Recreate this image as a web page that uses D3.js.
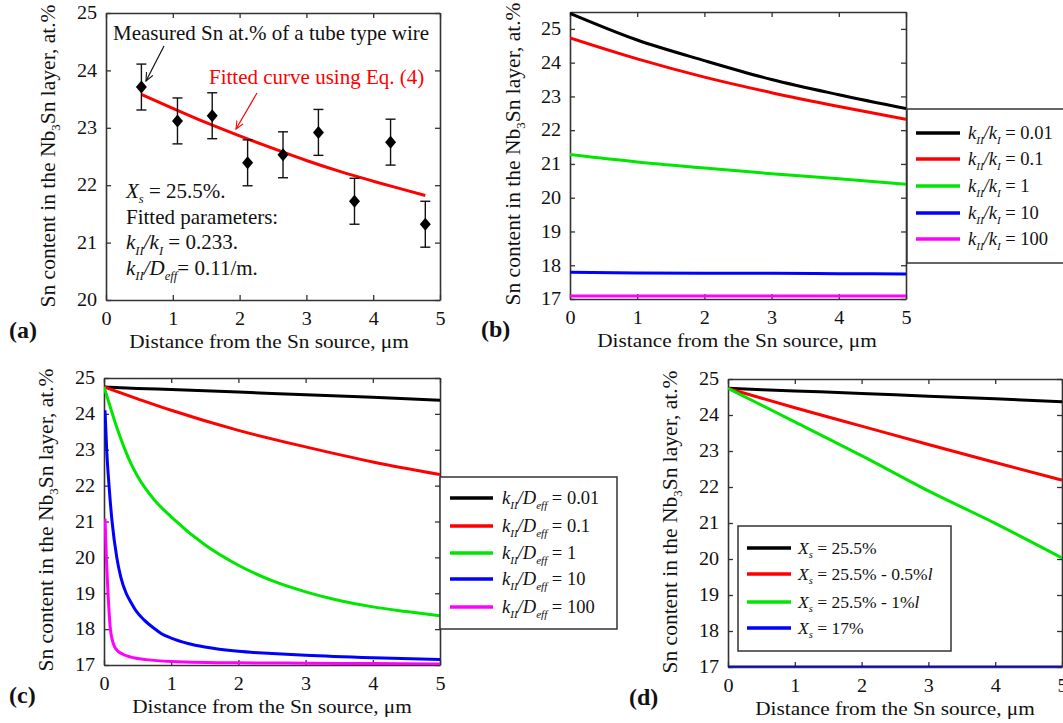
<!DOCTYPE html>
<html>
<head>
<meta charset="utf-8">
<script src="https://cdn.jsdelivr.net/npm/d3@7"></script>
<style>
  body { margin: 0; background: #fff; }
  text { font-family: "Liberation Serif", "Times New Roman", serif; fill: #111; }
</style>
</head>
<body>
<div id="chart"></div>
<script>
// ---- data ----
const xTicks = [0, 1, 2, 3, 4, 5];

// (a) measured points and fitted curve
const measX   = [0.53, 1.07, 1.59, 2.12, 2.65, 3.18, 3.72, 4.26, 4.78];
const measY   = [23.71, 23.12, 23.21, 22.39, 22.53, 22.92, 21.72, 22.75, 21.32];
const measErr = [0.4, 0.4, 0.4, 0.4, 0.4, 0.4, 0.4, 0.4, 0.4];
const fitX = [0.53, 1, 1.5, 2, 2.5, 3, 3.5, 4, 4.5, 4.78];
const fitY = [23.58, 23.34, 23.09, 22.86, 22.64, 22.43, 22.24, 22.07, 21.91, 21.82];

// (b) effect of kII/kI
const bX = [0, 1, 2, 3, 4, 5];
const bBlack   = [25.46, 24.67, 24.06, 23.50, 23.05, 22.64];
const bRed     = [24.73, 24.11, 23.57, 23.11, 22.70, 22.32];
const bGreen   = [21.28, 21.06, 20.88, 20.71, 20.56, 20.40];
const bBlue    = [17.79, 17.77, 17.76, 17.76, 17.75, 17.74];
const bMagenta = [17.09, 17.09, 17.09, 17.09, 17.09, 17.09];
const bRatios  = ["0.01", "0.1", "1", "10", "100"];

// (c) effect of kII/Deff
const cX       = [0, 0.5, 1, 2, 3, 4, 5];
const cBlack   = [24.75, 24.71, 24.68, 24.61, 24.53, 24.46, 24.38];
const cRed     = [24.75, 24.42, 24.10, 23.54, 23.08, 22.66, 22.31];
const cGreenX  = [0, 0.05, 0.1, 0.2, 0.3, 0.4, 0.5, 0.75, 1, 1.5, 2, 2.5, 3, 3.5, 4, 4.5, 5];
const cGreen   = [24.75, 24.45, 24.15, 23.57, 23.06, 22.62, 22.26, 21.60, 21.13, 20.35, 19.78, 19.35, 19.04, 18.80, 18.62, 18.49, 18.37];
const cBlueX   = [0.015, 0.04, 0.075, 0.12, 0.19, 0.25, 0.33, 0.4, 0.48, 0.6, 0.76, 0.85, 1, 1.25, 1.5, 2, 2.5, 3, 4, 5];
const cBlue    = [24.10, 23.00, 22.00, 21.00, 20.00, 19.45, 19.00, 18.75, 18.50, 18.25, 18.00, 17.88, 17.75, 17.60, 17.50, 17.38, 17.32, 17.27, 17.20, 17.15];
const cMagX    = [0.015, 0.035, 0.06, 0.095, 0.12, 0.16, 0.2, 0.28, 0.4, 0.63, 1, 2, 3, 4, 5];
const cMagenta = [21.08, 20.00, 19.00, 18.00, 17.72, 17.50, 17.40, 17.30, 17.22, 17.15, 17.10, 17.06, 17.05, 17.04, 17.03];
const cRatios  = ["0.01", "0.1", "1", "10", "100"];

// (d) effect of Xs
const dX = [0, 1, 2, 3, 4, 5];
const dBlack = [24.74, 24.67, 24.60, 24.52, 24.45, 24.37];
const dRed   = [24.74, 24.20, 23.69, 23.18, 22.68, 22.19];
const dGreen = [24.74, 23.81, 22.87, 21.89, 20.99, 20.03];
const dBlue  = [17.00, 17.00, 17.00, 17.00, 17.00, 17.00];
const dLabels = ["25.5%", "25.5% - 0.5%", "25.5% - 1%", "17%"];

const colors = ["#000000", "#ff0000", "#00e600", "#0000ff", "#ff00ff"];

const width = 1063, height = 723;
const sx = 1.12; // the source figure is a bit wider than tall

let svg = d3.select("#chart").append("svg")
  .attr("width", width)
  .attr("height", height);

svg.append("rect").attr("width", width).attr("height", height).attr("fill", "#fff");

svg.append("defs").selectAll("marker")
  .data([["arrBlack", "#111"], ["arrRed", "#ff0000"]])
  .enter().append("marker")
  .attr("id", d => d[0])
  .attr("viewBox", "0 -5 10 10")
  .attr("refX", 9)
  .attr("refY", 0)
  .attr("markerWidth", 9)
  .attr("markerHeight", 9)
  .attr("markerUnits", "userSpaceOnUse")
  .attr("orient", "auto")
  .append("path")
  .attr("d", "M0,-4L9,0L0,4")
  .attr("fill", "none")
  .attr("stroke", d => d[1])
  .attr("stroke-width", 1.2);

// text with italic / subscript pieces
function rich(sel, segs, size) {
  let shift = 0;
  segs.forEach(s => {
    const t = sel.append("tspan").text(s.t);
    if (s.i) t.attr("font-style", "italic");
    const target = s.sub ? size * 0.25 : 0;
    if (s.sub) t.attr("font-size", size * 0.6);
    if (target - shift !== 0) t.attr("dy", target - shift);
    shift = target;
  });
  return sel;
}

const yLabelSegs = [{t: "Sn content in the Nb"}, {t: "3", sub: 1}, {t: "Sn layer, at.%"}];

function panel(cfg) {
  const x = d3.scaleLinear().domain([0, 5]).range([cfg.left, cfg.right]);
  const y = d3.scaleLinear().domain(cfg.yDom).range([cfg.bottom, cfg.top]);
  const g = svg.append("g");

  const styleAxis = a => {
    a.selectAll("path.domain").attr("stroke", "#333").attr("stroke-width", 1.6);
    a.selectAll(".tick line").attr("stroke", "#333").attr("stroke-width", 1.3);
    a.selectAll(".tick text").attr("font-size", 18).attr("fill", "#111")
      .attr("transform", `scale(${sx},1)`);
  };

  g.append("g").attr("transform", `translate(0,${cfg.bottom})`)
    .call(d3.axisBottom(x).tickValues(xTicks).tickSize(-5).tickSizeOuter(0).tickPadding(12).tickFormat(d3.format("d")))
    .call(styleAxis);
  g.append("g").attr("transform", `translate(0,${cfg.top})`)
    .call(d3.axisTop(x).tickValues(xTicks).tickSize(-5).tickSizeOuter(0).tickFormat(""))
    .call(styleAxis);
  g.append("g").attr("transform", `translate(${cfg.left},0)`)
    .call(d3.axisLeft(y).tickValues(cfg.yTicks).tickSize(-5).tickSizeOuter(0).tickPadding(8).tickFormat(d3.format("d")))
    .call(styleAxis);
  g.append("g").attr("transform", `translate(${cfg.right},0)`)
    .call(d3.axisRight(y).tickValues(cfg.yTicks).tickSize(-5).tickSizeOuter(0).tickFormat(""))
    .call(styleAxis);

  // axis titles
  g.append("text")
    .attr("transform", `translate(${cfg.xLabX},${cfg.bottom + 48}) scale(${sx},1)`)
    .attr("text-anchor", "middle")
    .attr("font-size", 19)
    .text("Distance from the Sn source, \u03bcm");
  rich(g.append("text")
    .attr("transform", `translate(${cfg.yLabX},${cfg.yLabY}) rotate(-90)`)
    .attr("text-anchor", "middle")
    .attr("font-size", 21.5), yLabelSegs, 21.5);

  g.append("text")
    .attr("x", cfg.tagX)
    .attr("y", cfg.bottom + 38)
    .attr("font-size", 24)
    .attr("font-weight", "bold")
    .text(cfg.tag);

  const line = d3.line().x(d => x(d[0])).y(d => y(d[1])).curve(d3.curveMonotoneX);
  const clip = "clip" + cfg.tag.replace(/\W/g, "");
  g.append("clipPath").attr("id", clip).append("rect")
    .attr("x", cfg.left).attr("y", cfg.top - 2)
    .attr("width", cfg.right - cfg.left).attr("height", cfg.bottom - cfg.top + 2);
  g.append("g").attr("clip-path", `url(#${clip})`)
    .selectAll("path")
    .data(cfg.series)
    .enter().append("path")
    .attr("d", s => line(s.xs.map((v, i) => [v, s.ys[i]])))
    .attr("fill", "none")
    .attr("stroke", s => s.color)
    .attr("stroke-width", 3);

  return {x, y, g};
}

const yTicks17 = [17, 18, 19, 20, 21, 22, 23, 24, 25];

// ---- (a) ----
const pa = panel({left: 106, right: 440, top: 13, bottom: 300, yDom: [20, 25],
  yTicks: [20, 21, 22, 23, 24, 25], yLabX: 55, yLabY: 156, tag: "(a)", tagX: 9, xLabX: 269,
  series: [{xs: fitX, ys: fitY, color: "#ff0000"}]});

const meas = measX.map((v, i) => ({x: v, y: measY[i], e: measErr[i]}));
const eb = pa.g.append("g").selectAll("g").data(meas).enter().append("g");
eb.append("line")
  .attr("x1", d => pa.x(d.x)).attr("x2", d => pa.x(d.x))
  .attr("y1", d => pa.y(d.y - d.e)).attr("y2", d => pa.y(d.y + d.e))
  .attr("stroke", "#111").attr("stroke-width", 1.4);
[-1, 1].forEach(sgn => {
  eb.append("line")
    .attr("x1", d => pa.x(d.x) - 5).attr("x2", d => pa.x(d.x) + 5)
    .attr("y1", d => pa.y(d.y + sgn * d.e)).attr("y2", d => pa.y(d.y + sgn * d.e))
    .attr("stroke", "#111").attr("stroke-width", 1.4);
});
eb.append("path")
  .attr("d", d => {
    const cx = pa.x(d.x), cy = pa.y(d.y);
    return `M${cx},${cy - 6.5}L${cx + 5.5},${cy}L${cx},${cy + 6.5}L${cx - 5.5},${cy}Z`;
  })
  .attr("fill", "#000");

pa.g.append("text").attr("x", 113).attr("y", 40).attr("font-size", 21)
  .text("Measured Sn at.% of a tube type wire");
pa.g.append("line").attr("x1", 164).attr("y1", 46).attr("x2", 146).attr("y2", 81)
  .attr("stroke", "#111").attr("stroke-width", 1.2).attr("marker-end", "url(#arrBlack)");
pa.g.append("text").attr("x", 209).attr("y", 84).attr("font-size", 21)
  .style("fill", "#ff0000")
  .text("Fitted curve using Eq. (4)");
pa.g.append("line").attr("x1", 257).attr("y1", 93).attr("x2", 236).attr("y2", 129)
  .attr("stroke", "#ff0000").attr("stroke-width", 1.2).attr("marker-end", "url(#arrRed)");

const noteLines = [
  [{t: "X", i: 1}, {t: "s", i: 1, sub: 1}, {t: " = 25.5%."}],
  [{t: "Fitted parameters:"}],
  [{t: "k", i: 1}, {t: "II", i: 1, sub: 1}, {t: "/", i: 1}, {t: "k", i: 1}, {t: "I", i: 1, sub: 1}, {t: " = 0.233."}],
  [{t: "k", i: 1}, {t: "II", i: 1, sub: 1}, {t: "/", i: 1}, {t: "D", i: 1}, {t: "eff", i: 1, sub: 1}, {t: "= 0.11/m."}]
];
noteLines.forEach((segs, i) => {
  rich(pa.g.append("text").attr("x", 126).attr("y", 198 + i * 25.7).attr("font-size", 21), segs, 21);
});

// legend helper
function legend(g, box, rows, lineX, textX, rowYs, size) {
  g.append("rect").attr("x", box[0]).attr("y", box[1]).attr("width", box[2]).attr("height", box[3])
    .attr("fill", "#fff").attr("stroke", "#333").attr("stroke-width", 1.5);
  rows.forEach((r, i) => {
    const yy = rowYs[i];
    g.append("line").attr("x1", lineX[0]).attr("x2", lineX[1]).attr("y1", yy).attr("y2", yy)
      .attr("stroke", r.color).attr("stroke-width", 3.5);
    rich(g.append("text").attr("x", textX).attr("y", yy + 6).attr("font-size", size), r.segs, size);
  });
}

// ---- (b) ----
const pb = panel({left: 570, right: 906, top: 12, bottom: 299, yDom: [17, 25.5],
  yTicks: yTicks17, yLabX: 520, yLabY: 154, tag: "(b)", tagX: 481, xLabX: 737,
  series: [bBlack, bRed, bGreen, bBlue, bMagenta].map((ys, i) => ({xs: bX, ys: ys, color: colors[i]}))});
legend(pb.g, [907, 109, 170, 154],
  bRatios.map((r, i) => ({color: colors[i],
    segs: [{t: "k", i: 1}, {t: "II", i: 1, sub: 1}, {t: "/", i: 1}, {t: "k", i: 1}, {t: "I", i: 1, sub: 1}, {t: " = " + r}]})),
  [916, 960], 968, [133, 159, 186, 213, 239], 18.5);

// ---- (c) ----
const pc = panel({left: 104, right: 440, top: 378, bottom: 665, yDom: [17, 25],
  yTicks: yTicks17, yLabX: 53, yLabY: 520, tag: "(c)", tagX: 9, xLabX: 272,
  series: [
    {xs: cX, ys: cBlack, color: colors[0]},
    {xs: cX, ys: cRed, color: colors[1]},
    {xs: cGreenX, ys: cGreen, color: colors[2]},
    {xs: cBlueX, ys: cBlue, color: colors[3]},
    {xs: cMagX, ys: cMagenta, color: colors[4]}
  ]});
legend(pc.g, [440, 477, 177, 152],
  cRatios.map((r, i) => ({color: colors[i],
    segs: [{t: "k", i: 1}, {t: "II", i: 1, sub: 1}, {t: "/", i: 1}, {t: "D", i: 1}, {t: "eff", i: 1, sub: 1}, {t: " = " + r}]})),
  [450, 493], 502, [498, 526, 553, 579, 607], 18.5);

// ---- (d) ----
const pd = panel({left: 728, right: 1062, top: 379, bottom: 667, yDom: [17, 25],
  yTicks: yTicks17, yLabX: 677, yLabY: 522, tag: "(d)", tagX: 629, xLabX: 895,
  series: [dBlack, dRed, dGreen, dBlue].map((ys, i) => ({xs: dX, ys: ys, color: colors[i]}))});
legend(pd.g, [738, 526, 213, 125],
  dLabels.map((r, i) => ({color: colors[i],
    segs: [{t: "X", i: 1}, {t: "s", i: 1, sub: 1}, {t: " = " + r}].concat(i === 1 || i === 2 ? [{t: "l", i: 1}] : [])})),
  [747, 791], 798, [548, 574, 602, 628], 17.5);
</script>
</body>
</html>
